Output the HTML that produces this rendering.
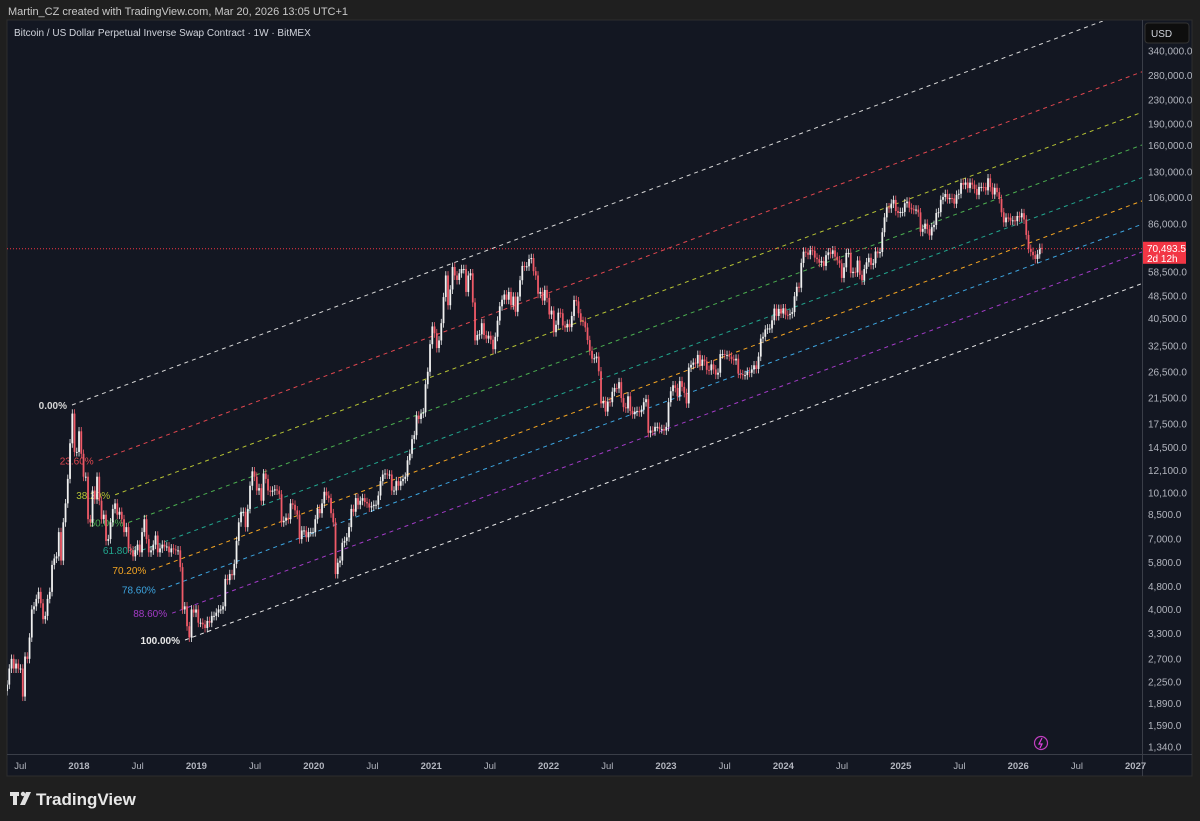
<!DOCTYPE html>
<html><head><meta charset="utf-8"><style>
html,body{margin:0;padding:0;background:#1f1f1f;}
svg{display:block;font-family:"Liberation Sans",sans-serif;}
</style></head><body>
<svg id="chart" width="1200" height="821" viewBox="0 0 1200 821" xmlns="http://www.w3.org/2000/svg">
<rect x="0" y="0" width="1200" height="821" fill="#1f1f1f"/>
<text x="8" y="15" font-size="11" fill="#c8c8c8">Martin_CZ created with TradingView.com, Mar 20, 2026 13:05 UTC+1</text>
<rect x="7" y="20" width="1185" height="756" fill="#131722" stroke="#2e2e2e"/>
<text x="14" y="36" font-size="10" fill="#d1d4dc">Bitcoin / US Dollar Perpetual Inverse Swap Contract · 1W · BitMEX</text>
<line x1="1142.5" y1="20" x2="1142.5" y2="776" stroke="#3a3e48"/>
<line x1="7" y1="754.5" x2="1192" y2="754.5" stroke="#3a3e48"/>
<rect x="1145" y="23" width="44" height="20" rx="3" fill="#0e0e0e" stroke="#333"/>
<text x="1151" y="37" font-size="10" fill="#d1d4dc">USD</text>
<defs><clipPath id="plot"><rect x="7" y="21" width="1135" height="733"/></clipPath></defs>
<g id="fib" clip-path="url(#plot)"></g>
<g id="candles" clip-path="url(#plot)"></g>
<g id="yaxis"></g>
<g id="xaxis"></g>
<g>
<rect x="10" y="792" width="9" height="4" fill="#e0e0e0"/><rect x="13" y="792" width="4" height="13" fill="#e0e0e0"/>
<circle cx="23" cy="794" r="2.2" fill="#e0e0e0"/><polygon points="26,792 31,792 25,805 20,805" fill="#e0e0e0"/>
<text x="36" y="805" font-size="17" fill="#e8e8e8" font-weight="bold">TradingView</text>
</g>
<g><circle cx="1041" cy="743" r="6.5" fill="none" stroke="#c03fc0" stroke-width="1.2"/><path d="M1042 738 L1039 744 L1042 744 L1040 748" stroke="#e040e0" fill="none" stroke-width="1.2"/></g>
</svg>
<script>
const yTickValues=[340000,280000,230000,190000,160000,130000,106000,86000,58500,48500,40500,32500,26500,21500,17500,14500,12100,10100,8500,7000,5800,4800,4000,3300,2700,2250,1890,1590,1340];
const xTickLabels=["Jul","2018","Jul","2019","Jul","2020","Jul","2021","Jul","2022","Jul","2023","Jul","2024","Jul","2025","Jul","2026","Jul","2027"];
const xTickTimes=[2017.5,2018,2018.5,2019,2019.5,2020,2020.5,2021,2021.5,2022,2022.5,2023,2023.5,2024,2024.5,2025,2025.5,2026,2026.5,2027];
const startTime=2017.387;
const weeklyCloses=[2200,2500,2700,2500,2600,2500,2500,2000,2750,2700,3200,4000,4100,4350,4600,4200,3700,3800,4350,4600,5700,6000,6100,7400,5900,8000,9300,11300,15000,19000,14000,14000,
16500,13800,11500,11500,8200,8000,10300,9600,11500,9500,8200,8500,6900,7000,8000,8900,9300,8500,8700,8200,7400,7700,6500,6400,6100,6400,6700,6300,7400,8200,7000,6300,6400,6700,7200,6300,6500,6700,6600,6600,6300,6500,6450,6400,6400,5600,4000,4100,3500,3200,4000,3900,4000,
3600,3600,3550,3450,3650,3600,3800,3800,3900,4000,4000,4100,5100,5050,5300,5250,5750,6900,8000,8700,8700,7700,8900,10700,12000,11500,10300,10500,9500,11800,11300,10300,10200,10300,10400,10300,10000,8000,8100,8300,8200,9300,9200,8800,8500,7000,7500,7500,7100,7400,7400,7400,
8200,8900,8600,9300,10200,9900,9700,8600,8000,5300,5800,5900,6800,6900,7100,7700,8900,8700,9700,9200,9500,9700,9400,9300,9000,9100,9200,9200,9900,11100,11700,11800,11700,11700,10300,10300,11100,10700,11100,11300,11500,13100,13800,15500,16000,18700,18200,19000,19200,24000,26500,33000,
38000,36000,32000,34000,39000,48000,57000,45000,51000,61000,57000,55000,58000,60000,60000,50000,57000,58000,46000,34000,35500,35700,39000,35500,34500,35300,34200,31700,35000,39800,44600,47000,49000,47000,50000,45000,48200,42700,48200,54900,61500,61300,61300,65000,65500,59000,57000,49300,50000,46700,50800,47700,
41800,43100,36300,38500,42400,42200,38300,37700,38800,37800,41300,46900,46400,42200,39700,39500,37700,34100,31300,29400,29500,29900,26600,20600,21000,19300,20900,20800,22600,23300,23200,24400,21500,20000,19800,21800,19400,18900,19300,19400,19200,19600,20800,21300,16300,16600,16500,17100,17100,16800,16800,16600,
17100,20800,22700,23800,23300,21800,24600,23500,22400,20600,27400,28000,28500,28300,30300,27800,29200,28800,26900,26800,28100,27000,25900,26300,30500,30500,30300,30300,29900,29300,29000,29400,26100,26000,25800,25800,26500,26300,27000,27900,27100,29900,34500,35000,37100,37400,37400,39900,43800,41300,43700,42100,
43900,41700,41600,42000,42600,48300,52100,51700,63000,68900,68400,67200,69700,69400,65700,64900,63100,63900,61500,67000,68500,67700,69600,66200,64300,62800,55900,60800,68200,68200,58100,58700,58400,64200,57300,54800,60000,63300,65600,62000,62800,69000,68000,68700,80400,90500,98000,97200,101000,104000,95200,93700,
94500,94500,101300,102600,97700,96500,96100,96300,94200,80700,82600,86100,82400,78400,83700,85200,93700,94300,104100,106400,109000,104600,105600,105300,100900,108300,109200,119000,117300,119400,114200,119300,117400,113500,108300,115300,115300,115200,112200,123500,115100,108600,114500,110600,104700,94200,87000,90400,90300,88200,88400,87800,91500,
90500,93600,89000,78700,70500,68800,67000,65000,67500,71000,70493.5];
const fibLevels=[0,0.236,0.382,0.5,0.618,0.702,0.786,0.886,1];
const fibLabels=["0.00%","23.60%","38.20%","50.00%","61.80%","70.20%","78.60%","88.60%","100.00%"];
const fibColors=["#d8d8d8","#e0474f","#b5c234","#4caf50","#22a68e","#f5a623","#3da5e0","#a33bc7","#e8e8e8"];
const lastPrice=70493.5;

const NS="http://www.w3.org/2000/svg";
function yOf(p){return 51+(Math.log(340000)-Math.log(p))*125.7;}
function xOf(t){return 79+(t-2018)*117.4;}
function mk(tag,attrs,parent,txt){const e=document.createElementNS(NS,tag);for(const k in attrs)e.setAttribute(k,attrs[k]);if(txt!==undefined)e.textContent=txt;parent.appendChild(e);return e;}

// y axis
const ya=document.getElementById('yaxis');
yTickValues.forEach(v=>{
  const t=mk('text',{x:1148,y:yOf(v)+3.5,'font-size':10,fill:'#b2b5be'},ya,v.toLocaleString('en-US',{minimumFractionDigits:1,maximumFractionDigits:1}));
  
  
});
// x axis
const xa=document.getElementById('xaxis');
xTickLabels.forEach((l,i)=>{
  const t=mk('text',{x:xOf(xTickTimes[i]),y:769,'font-size':9.5,fill:'#b2b5be','text-anchor':'middle','font-weight':l==='Jul'?'normal':'bold'},xa,l);
  
  
});
// fib channel
const fg=document.getElementById('fib');
const a0={x:72,y:405},a1={x:185,y:640},slope=-0.3725;
fibLevels.forEach((lv,i)=>{
  const sx=a0.x+(a1.x-a0.x)*lv, sy=a0.y+(a1.y-a0.y)*lv;
  const ex=1145, ey=sy+slope*(ex-sx);
  const ln=mk('line',{x1:sx,y1:sy,x2:ex,y2:ey,stroke:fibColors[i],'stroke-width':1,'stroke-dasharray':'4 4'},fg);
  
  
  const t=mk('text',{x:sx-5,y:sy+4,'font-size':10,fill:fibColors[i],'text-anchor':'end','font-weight':(i===0||i===8)?'bold':'normal'},fg,fibLabels[i]);
  
  
});
// candles
const cg=document.getElementById('candles');
const wk=7/365.25;
weeklyCloses.forEach((c,i)=>{
  const o=i===0?c*0.95:weeklyCloses[i-1];
  const hi=Math.max(o,c)*1.035, lo=Math.min(o,c)*0.965;
  const x=xOf(startTime+i*wk);
  const col=c>=o?'#f0f0f0':'#f05a68';
  const w=mk('line',{x1:x,x2:x,y1:yOf(hi),y2:yOf(lo),stroke:col,'stroke-width':0.8},cg);
  
  
  const yt=yOf(Math.max(o,c)), yb=yOf(Math.min(o,c));
  const b=mk('rect',{x:x-0.9,y:yt,width:1.8,height:Math.max(1,yb-yt),fill:col},cg);
  
  
});
// last price line and tag
const svg=document.getElementById('chart');
const ly=yOf(lastPrice);
const pl=mk('line',{x1:7,x2:1142,y1:ly,y2:ly,stroke:'#f23645','stroke-width':1,'stroke-dasharray':'1 2'},svg);


const tag=mk('rect',{x:1143,y:ly-7,width:43,height:22,fill:'#f23645'},svg);


const t1=mk('text',{x:1147,y:ly+3,'font-size':10,fill:'#ffffff'},svg,lastPrice.toLocaleString('en-US',{minimumFractionDigits:1}));


const t2=mk('text',{x:1147,y:ly+13,'font-size':10,fill:'#ffffff'},svg,'2d 12h');


</script>
</body></html>
